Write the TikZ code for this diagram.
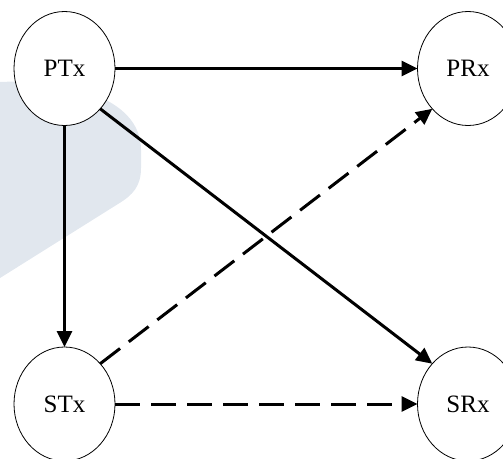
\documentclass[tikz,border=0pt]{standalone}
\usepackage{fontspec}
\setmainfont{Liberation Serif}
\usetikzlibrary{arrows.meta,shapes.geometric}
\definecolor{blobblue}{HTML}{E1E7EE}
\begin{document}
\begin{tikzpicture}[x=1pt,y=-1pt,
  station/.style={ellipse,draw,line width=0.8pt,fill=white,
    minimum width=101pt,minimum height=114pt,inner sep=0pt,outer sep=0pt,
    font=\fontsize{25}{30}\selectfont},
  link/.style={line width=3pt,-{Triangle[length=16pt,width=15pt]}},
  weak/.style={link,dash pattern=on 25pt off 11pt}]
\useasboundingbox (0,0) rectangle (503,458);
\clip (0,0) rectangle (503,458);
% pale background shape
\fill[blobblue] (0,82) .. controls (60,79) and (141,95) .. (141,150)
  -- (141,168) .. controls (141,186) and (133,195) .. (118,204)
  -- (0,278) -- cycle;
% stations
\node[station] (ptx) at (64.5,68.5) {PTx};
\node[station] (prx) at (468,68.5) {PRx};
\node[station] (stx) at (64.5,404) {STx};
\node[station] (srx) at (468,404) {SRx};
% links
\draw[link] (ptx.east) -- (prx.west);
\draw[link] (ptx.south) -- (stx.north);
\draw[link] (ptx.south east) -- (srx.north west);
\draw[weak] (stx.north east) -- (prx.south west);
\draw[weak] (stx.east) -- (srx.west);
\end{tikzpicture}
\end{document}
